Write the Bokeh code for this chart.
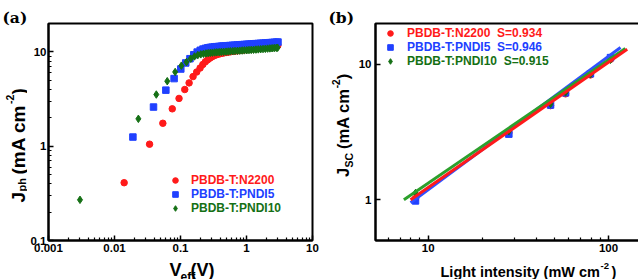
from bokeh.plotting import figure
from bokeh.layouts import row, column
from bokeh.models import (FixedTicker, CustomJSTickFormatter, Label, Legend, LegendItem,
                          Range1d)
from bokeh.embed import file_html
from bokeh.resources import INLINE
import math

# ---------------- Panel (a): Jph vs Veff ----------------
n2200_v = [0.014, 0.034, 0.054, 0.075, 0.095, 0.116, 0.135, 0.155, 0.176, 0.198,
           0.218, 0.238, 0.258, 0.278, 0.298, 0.32, 0.345, 0.37, 0.40, 0.43,
           0.46, 0.50, 0.54, 0.58, 0.63, 0.68, 0.74, 0.80, 0.87, 0.94,
           1.02, 1.10, 1.19, 1.29, 1.40, 1.52, 1.65, 1.79, 1.94, 2.10,
           2.27, 2.45, 2.64, 2.85, 2.98]
n2200_j = [0.41, 1.05, 1.75, 2.49, 3.21, 3.99, 4.69, 5.47, 6.12, 6.74,
           7.35, 7.85, 8.25, 8.58, 8.85, 9.08, 9.28, 9.43, 9.57, 9.68,
           9.78, 9.88, 9.97, 10.05, 10.13, 10.2, 10.28, 10.36, 10.44, 10.52,
           10.6, 10.68, 10.76, 10.84, 10.92, 11.0, 11.08, 11.16, 11.24, 11.32,
           11.4, 11.48, 11.56, 11.65, 11.7]

pndi5_v = [0.019, 0.039, 0.060, 0.080, 0.101, 0.120, 0.139, 0.159, 0.179, 0.199,
           0.219, 0.239, 0.259, 0.279, 0.30, 0.325, 0.35, 0.38, 0.41, 0.44,
           0.48, 0.52, 0.56, 0.61, 0.66, 0.72, 0.78, 0.85, 0.92, 1.0,
           1.08, 1.17, 1.27, 1.38, 1.50, 1.63, 1.77, 1.92, 2.08, 2.25,
           2.43, 2.62, 2.82, 3.0]
pndi5_j = [1.25, 2.6, 3.93, 5.21, 6.58, 7.63, 8.47, 9.33, 9.95, 10.4,
           10.7, 10.9, 11.05, 11.15, 11.23, 11.3, 11.36, 11.42, 11.48, 11.53,
           11.58, 11.63, 11.68, 11.73, 11.78, 11.83, 11.88, 11.93, 11.98, 12.03,
           12.08, 12.13, 12.18, 12.23, 12.28, 12.33, 12.38, 12.43, 12.48, 12.53,
           12.58, 12.63, 12.68, 12.72]

pndi10_v = [0.003, 0.023, 0.043, 0.063, 0.083, 0.103, 0.123, 0.143, 0.163, 0.183,
            0.203, 0.223, 0.243, 0.263, 0.283, 0.305, 0.33, 0.355, 0.385, 0.415,
            0.45, 0.49, 0.53, 0.57, 0.62, 0.67, 0.73, 0.79, 0.86, 0.93,
            1.01, 1.09, 1.18, 1.28, 1.39, 1.51, 1.64, 1.78, 1.93, 2.09,
            2.26, 2.44, 2.63, 2.83, 2.96]
pndi10_j = [0.27, 1.95, 3.53, 4.89, 6.12, 7.14, 7.8, 8.47, 8.95, 9.25,
            9.42, 9.55, 9.63, 9.7, 9.76, 9.81, 9.86, 9.9, 9.94, 9.98,
            10.02, 10.06, 10.1, 10.14, 10.18, 10.22, 10.26, 10.3, 10.34, 10.38,
            10.42, 10.46, 10.5, 10.54, 10.58, 10.63, 10.68, 10.73, 10.78, 10.83,
            10.88, 10.93, 10.98, 11.03, 11.07]

a_xticks = [0.001, 0.01, 0.1, 1, 10]
a_xlabels = ["0.001", "0.01", "0.1", "1", "10"]
a_yticks = [0.1, 1, 10]
a_ylabels = ["0.1", "1", "10"]
a_names = ["PBDB-T:N2200", "PBDB-T:PNDI5", "PBDB-T:PNDI10"]

# ---------------- Panel (b): Jsc vs light intensity ----------------
light = [8.5, 28.0, 47.7, 57.8, 79.4, 102.6]
jsc_n2200 = [1.02, 3.12, 4.95, 6.05, 8.35, 10.9]
jsc_pndi5 = [0.98, 3.05, 5.0, 6.15, 8.5, 11.2]
jsc_pndi10 = [1.12, 3.2, 5.1, 6.2, 8.45, 10.8]
# fitted power-law lines (end points)
fit_n2200_x = [7.98, 127.0]
fit_n2200_y = [1.0, 12.9]
fit_pndi5_x = [7.98, 116.6]
fit_pndi5_y = [0.95, 13.3]
fit_pndi10_x = [7.33, 124.0]
fit_pndi10_y = [1.0, 13.1]
b_slopes = ["S=0.934", "S=0.946", "S=0.915"]
b_xticks = [10, 100]
b_xlabels = ["10", "100"]
b_yticks = [1, 10]
b_ylabels = ["1", "10"]

RED = "#ff1a1a"
BLUE = "#2040ff"
DGREEN = "#157015"
LGREEN = "#2ca02c"
FONT = "Liberation Sans"
R = math.pi / 2


def fmt(tick_values, tick_labels):
    return CustomJSTickFormatter(args=dict(tv=tick_values, tl=tick_labels), code="""
        const i = tv.findIndex(t => Math.abs(Math.log10(t) - Math.log10(tick)) < 1e-6);
        return i >= 0 ? tl[i] : "";
    """)


def minors(lo_exp, hi_exp, extra=()):
    return [m * 10 ** k for k in range(lo_exp, hi_exp) for m in range(2, 10)] + list(extra)


def style(p, ystandoff):
    p.grid.visible = False
    p.outline_line_color = "black"
    p.outline_line_width = 2
    p.background_fill_color = "white"
    p.border_fill_color = "white"
    for ax in (p.xaxis[0], p.yaxis[0]):
        ax.axis_line_width = 2
        ax.axis_line_color = "black"
        ax.major_tick_in = 5
        ax.major_tick_out = 0
        ax.minor_tick_in = 3
        ax.minor_tick_out = 0
        ax.major_tick_line_width = 1.5
        ax.minor_tick_line_width = 1.2
        ax.major_label_text_font = FONT
        ax.major_label_text_font_style = "bold"
        ax.major_label_text_font_size = "11.5px"
        ax.major_label_text_color = "black"
    p.xaxis[0].major_label_standoff = 3
    p.yaxis[0].major_label_standoff = ystandoff


def blank(w, h):
    f = figure(width=w, height=h, min_border=0, min_border_left=0, min_border_right=0,
               min_border_top=0, min_border_bottom=0,
               x_axis_location=None, y_axis_location=None, toolbar_location=None,
               output_backend="svg", x_range=Range1d(0, 1), y_range=Range1d(0, 1))
    f.outline_line_color = None
    f.grid.visible = False
    f.background_fill_color = "white"
    f.border_fill_color = "white"
    return f


def lab(p, text, x, y, size, angle=0.0, font=FONT, color="black"):
    p.add_layout(Label(x=x, y=y, x_units="screen", y_units="screen", text=text,
                       angle=angle, text_font=font, text_font_size=size,
                       text_font_style="bold", text_color=color,
                       text_align="left", text_baseline="alphabetic"))


def one_legend(p, renderer, label, color, x, y, standoff):
    lg = Legend(items=[LegendItem(label=label, renderers=[renderer])],
                location=(x, y), padding=0, margin=0, spacing=0,
                glyph_width=14, glyph_height=14, label_standoff=standoff,
                label_text_font=FONT, label_text_font_style="bold",
                label_text_font_size="12px", label_text_color=color,
                background_fill_alpha=0, border_line_alpha=0)
    p.add_layout(lg)


# ---------- panel (a) ----------
pa = figure(x_axis_type="log", y_axis_type="log", output_backend="svg",
            toolbar_location=None, frame_width=264, frame_height=217,
            min_border=0, min_border_left=18, min_border_right=11, min_border_top=23,
            min_border_bottom=16,
            x_range=Range1d(0.001, 10), y_range=Range1d(0.1, 20))
style(pa, 2)
pa.xaxis[0].ticker = FixedTicker(ticks=a_xticks, minor_ticks=minors(-3, 1))
pa.xaxis[0].formatter = fmt(a_xticks, a_xlabels)
pa.yaxis[0].ticker = FixedTicker(ticks=a_yticks, minor_ticks=minors(-1, 1, [20]))
pa.yaxis[0].formatter = fmt(a_yticks, a_ylabels)

ra1 = pa.scatter(n2200_v, n2200_j, marker="circle", size=6.5, color=RED)
ra2 = pa.scatter(pndi5_v, pndi5_j, marker="square", size=6.5, color=BLUE)
ra3 = pa.scatter(pndi10_v, pndi10_j, marker="diamond", size=7.5, color=DGREEN)

one_legend(pa, ra1, a_names[0], RED, 120, 53, 9)
one_legend(pa, ra2, a_names[1], BLUE, 120, 39, 9)
one_legend(pa, ra3, a_names[2], DGREEN, 120, 25, 9)

ylab_a = blank(27, 279)
lab(ylab_a, "(a)", 2, 262, "15.5px", font="DejaVu Serif")
lab(ylab_a, "J", 18, 77, "19px", angle=R)
lab(ylab_a, "ph", 21, 88, "11px", angle=R)
lab(ylab_a, "(mA cm", 18, 105, "19px", angle=R)
lab(ylab_a, "-2", 9.5, 175.5, "10.5px", angle=R)
lab(ylab_a, ")", 18, 185, "19px", angle=R)

xlab_a = blank(293, 23)
lab(xlab_a, "V", 121, 10, "18px")
lab(xlab_a, "eff", 132, 2.5, "12px")
lab(xlab_a, "(V)", 142, 9.5, "18px")

# ---------- panel (b) ----------
pb = figure(x_axis_type="log", y_axis_type="log", output_backend="svg",
            toolbar_location=None, frame_width=265, frame_height=217,
            min_border=0, min_border_left=18, min_border_right=2, min_border_top=23,
            min_border_bottom=16,
            x_range=Range1d(5.1, 150.5), y_range=Range1d(0.5, 20))
style(pb, 4)
pb.xaxis[0].ticker = FixedTicker(ticks=b_xticks, minor_ticks=[6, 7, 8, 9, 20, 30, 40, 50, 60, 70, 80, 90])
pb.xaxis[0].formatter = fmt(b_xticks, b_xlabels)
pb.yaxis[0].ticker = FixedTicker(ticks=b_yticks, minor_ticks=[])
pb.yaxis[0].formatter = fmt(b_yticks, b_ylabels)

rb1 = pb.scatter(light, jsc_n2200, marker="circle", size=6.5, color=RED)
rb2 = pb.scatter(light, jsc_pndi5, marker="square", size=6.5, color=BLUE)
rb3 = pb.scatter(light, jsc_pndi10, marker="diamond", size=7.5, color=DGREEN)
pb.line(fit_pndi5_x, fit_pndi5_y, line_color="#3050ff", line_width=3)
pb.line(fit_pndi10_x, fit_pndi10_y, line_color=LGREEN, line_width=3)
pb.line(fit_n2200_x, fit_n2200_y, line_color=RED, line_width=3)

one_legend(pb, rb1, a_names[0] + "  " + b_slopes[0], RED, 8, 200, 10)
one_legend(pb, rb2, a_names[1] + "  " + b_slopes[1], BLUE, 8, 186, 10)
one_legend(pb, rb3, a_names[2] + "  " + b_slopes[2], DGREEN, 8, 172, 10)

ylab_b = blank(32, 279)
lab(ylab_b, "(b)", 5, 262, "15.5px", font="DejaVu Serif")
lab(ylab_b, "J", 19, 102.5, "16.5px", angle=R)
lab(ylab_b, "SC", 25.5, 112, "10.5px", angle=R)
lab(ylab_b, "(mA cm", 19, 130.5, "16.5px", angle=R)
lab(ylab_b, "-2", 12, 191.2, "10px", angle=R)
lab(ylab_b, ")", 19, 200.3, "16.5px", angle=R)

xlab_b = blank(285, 23)
lab(xlab_b, "Light intensity (mW cm", 65, 8, "14.5px")
lab(xlab_b, "-2", 225, 14, "9.5px")
lab(xlab_b, ")", 236, 8, "14.5px")

layout = row(ylab_a, column(pa, xlab_a), ylab_b, column(pb, xlab_b))
open("out.html", "w").write(file_html(layout, INLINE))
